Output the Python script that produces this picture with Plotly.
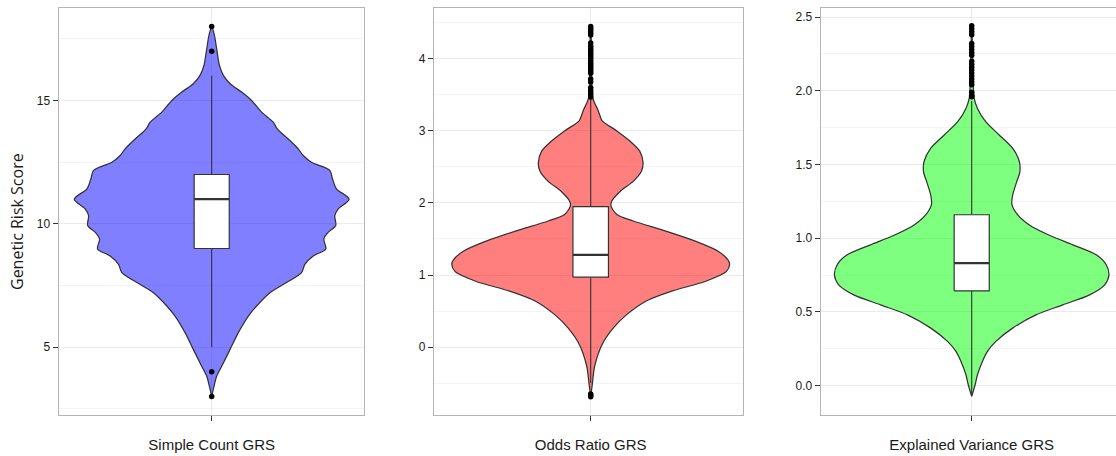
import plotly.graph_objects as go

# ---------------- data ----------------
categories = ["Simple Count GRS", "Odds Ratio GRS", "Explained Variance GRS"]

# violin outlines: value levels and relative density (max = 1)
sc_vals = [18.0, 17.64, 17.1, 16.43, 16.02, 15.68, 15.34, 15.0, 14.53, 14.12, 13.85, 13.44,
           13.04, 12.77, 12.5, 12.17, 11.83, 11.42, 11.0, 10.6, 10.33, 9.93, 9.65, 9.38,
           8.98, 8.7, 8.36, 8.02, 7.62, 7.21, 6.67, 6.26, 5.59, 4.91, 4.23, 3.82, 3.42, 3.0]
sc_dens = [0.0, 0.02, 0.036, 0.056, 0.085, 0.134, 0.218, 0.29, 0.363, 0.448, 0.477, 0.557,
           0.63, 0.666, 0.726, 0.86, 0.879, 0.908, 1.0, 0.92, 0.896, 0.903, 0.847, 0.816,
           0.831, 0.739, 0.678, 0.654, 0.545, 0.424, 0.327, 0.267, 0.194, 0.134, 0.073, 0.036, 0.017, 0.0]

or_vals = [4.45, 4.2, 3.9, 3.6, 3.49, 3.40, 3.30, 3.22, 3.14, 3.00, 2.86, 2.72, 2.56, 2.44,
           2.30, 2.16, 2.03, 1.96, 1.84, 1.75, 1.61, 1.47, 1.33, 1.21, 1.15, 1.05, 0.91,
           0.78, 0.64, 0.45, 0.27, 0.04, -0.27, -0.51, -0.69]
or_dens = [0.0, 0.005, 0.006, 0.009, 0.012, 0.025, 0.05, 0.065, 0.083, 0.188, 0.282, 0.353,
           0.377, 0.365, 0.306, 0.212, 0.153, 0.146, 0.188, 0.306, 0.541, 0.753, 0.917,
           0.988, 1.0, 0.977, 0.824, 0.589, 0.400, 0.259, 0.165, 0.083, 0.028, 0.012, 0.0]

ev_vals = [2.44, 2.2, 1.95, 1.88, 1.79, 1.70, 1.61, 1.52, 1.45, 1.38, 1.29, 1.23, 1.16,
           1.09, 1.02, 0.955, 0.887, 0.82, 0.75, 0.684, 0.616, 0.548, 0.48, 0.39, 0.30,
           0.232, 0.164, 0.074, 0.006, -0.073]
ev_dens = [0.0, 0.008, 0.018, 0.042, 0.102, 0.200, 0.298, 0.347, 0.351, 0.327, 0.298,
           0.293, 0.334, 0.420, 0.566, 0.737, 0.907, 0.980, 1.0, 0.969, 0.859, 0.664,
           0.468, 0.298, 0.176, 0.115, 0.078, 0.042, 0.025, 0.0]

# box statistics per panel
box_q1 = [9.0, 0.97, 0.643]
box_median = [11.0, 1.28, 0.831]
box_q3 = [12.0, 1.95, 1.159]
box_lower = [5.0, -0.50, -0.07]
box_upper = [16.0, 3.45, 1.93]

# outliers
sc_out = [3.0, 4.0, 17.0, 18.0]
or_out = [-0.69, -0.67, -0.65,
          3.47, 3.50, 3.53, 3.56, 3.60, 3.68, 3.72, 3.80, 3.83, 3.86, 3.88, 3.91, 3.94,
          3.97, 4.00, 4.03, 4.06, 4.09, 4.12, 4.15, 4.18, 4.22, 4.33, 4.36, 4.39, 4.42, 4.45]
ev_out = [1.96, 1.97, 1.99, 2.04, 2.06, 2.08, 2.10, 2.12, 2.14, 2.16, 2.18, 2.20,
          2.24, 2.26, 2.28, 2.30, 2.32, 2.38, 2.40, 2.42, 2.44]

y_ranges = [[2.25, 18.75], [-0.943, 4.706], [-0.199, 2.561]]
y_ticks = [[5, 10, 15], [0, 1, 2, 3, 4], [0.0, 0.5, 1.0, 1.5, 2.0, 2.5]]
y_minor = [2.5, 0.5, 0.25]
y_format = ["d", "d", ".1f"]

# ---------------- styling / layout ----------------
W, H = 1116, 456
fills = ["rgba(0,0,255,0.5)", "rgba(255,0,0,0.5)", "rgba(0,255,0,0.5)"]
panel_px = [(58.7, 364.0, 211.7), (434.0, 742.7, 590.7), (820.7, 1115.5, 971.7)]
unit_px = [305.3, 308.7, 305.0]
top_px, bot_px = 8.0, 415.0
half_w = 0.45
box_w = 0.115
line_col = "#333333"

violins = [(sc_vals, sc_dens), (or_vals, or_dens), (ev_vals, ev_dens)]
outs = [sc_out, or_out, ev_out]

fig = go.Figure()
font_main = "Liberation Sans, Arial, sans-serif"

for i in range(3):
    xa = "x" if i == 0 else f"x{i+1}"
    ya = "y" if i == 0 else f"y{i+1}"
    vals, dens = violins[i]
    # violin body
    xs = [-d * half_w for d in dens] + [d * half_w for d in reversed(dens)]
    ys = list(vals) + list(reversed(vals))
    fig.add_trace(go.Scatter(x=xs, y=ys, mode="lines", fill="toself",
                             fillcolor=fills[i],
                             line=dict(color=line_col, width=1.25, shape="spline", smoothing=0.8),
                             xaxis=xa, yaxis=ya, hoverinfo="skip", showlegend=False))
    # whiskers
    fig.add_trace(go.Scatter(x=[0, 0, None, 0, 0],
                             y=[box_lower[i], box_q1[i], None, box_q3[i], box_upper[i]],
                             mode="lines", line=dict(color=line_col, width=1.1),
                             xaxis=xa, yaxis=ya, hoverinfo="skip", showlegend=False))
    # box
    hb = box_w / 2
    fig.add_trace(go.Scatter(x=[-hb, hb, hb, -hb, -hb],
                             y=[box_q1[i], box_q1[i], box_q3[i], box_q3[i], box_q1[i]],
                             mode="lines", fill="toself", fillcolor="white",
                             line=dict(color=line_col, width=1.2),
                             xaxis=xa, yaxis=ya, hoverinfo="skip", showlegend=False))
    # median
    fig.add_trace(go.Scatter(x=[-hb, hb], y=[box_median[i]] * 2, mode="lines",
                             line=dict(color=line_col, width=2.2),
                             xaxis=xa, yaxis=ya, hoverinfo="skip", showlegend=False))
    # outliers
    fig.add_trace(go.Scatter(x=[0] * len(outs[i]), y=outs[i], mode="markers",
                             marker=dict(color="black", size=5.5),
                             xaxis=xa, yaxis=ya, hoverinfo="skip", showlegend=False))

    l, r, c = panel_px[i]
    u = unit_px[i]
    xrange = [-(c - l) / u, (r - c) / u]
    xkey = "xaxis" if i == 0 else f"xaxis{i+1}"
    ykey = "yaxis" if i == 0 else f"yaxis{i+1}"
    fig.update_layout(**{
        xkey: dict(domain=[l / W, r / W], range=xrange, anchor=ya, automargin=False,
                   tickvals=[0], ticktext=[categories[i]], ticks="outside", ticklen=5,
                   tickcolor=line_col, tickwidth=1, showgrid=True, gridcolor="#ebebeb",
                   zeroline=False, showline=True, mirror=True, linecolor="#b5b5b5",
                   linewidth=1.2, ticklabelstandoff=11,
                   tickfont=dict(family=font_main, size=15, color="#1a1a1a"),
                   fixedrange=True),
        ykey: dict(domain=[(H - bot_px) / H, (H - top_px) / H], range=y_ranges[i], anchor=xa,
                   automargin=False,
                   tickvals=y_ticks[i], tickformat=y_format[i], ticks="outside", ticklen=5,
                   tickcolor=line_col, tickwidth=1, showgrid=True, gridcolor="#ebebeb",
                   minor=dict(dtick=y_minor[i], tick0=0, showgrid=True, gridcolor="#f4f4f4"),
                   zeroline=False, showline=True, mirror=True, linecolor="#b5b5b5",
                   linewidth=1.2, tickfont=dict(family=font_main, size=12, color="#1a1a1a"),
                   fixedrange=True),
    })

fig.add_annotation(text="Genetic Risk Score", textangle=-90, showarrow=False,
                   xref="paper", yref="paper", x=17 / W, y=(H - 222) / H,
                   xanchor="center", yanchor="middle",
                   font=dict(family="Open Sans, sans-serif", size=16, color="#1a1a1a"))

fig.update_layout(width=W, height=H, margin=dict(l=0, r=0, t=0, b=0),
                  plot_bgcolor="white", paper_bgcolor="white", showlegend=False)

fig.write_html("out.html", config={"displayModeBar": False},
               post_script="document.body.style.margin='0px';document.body.style.overflow='hidden';")
